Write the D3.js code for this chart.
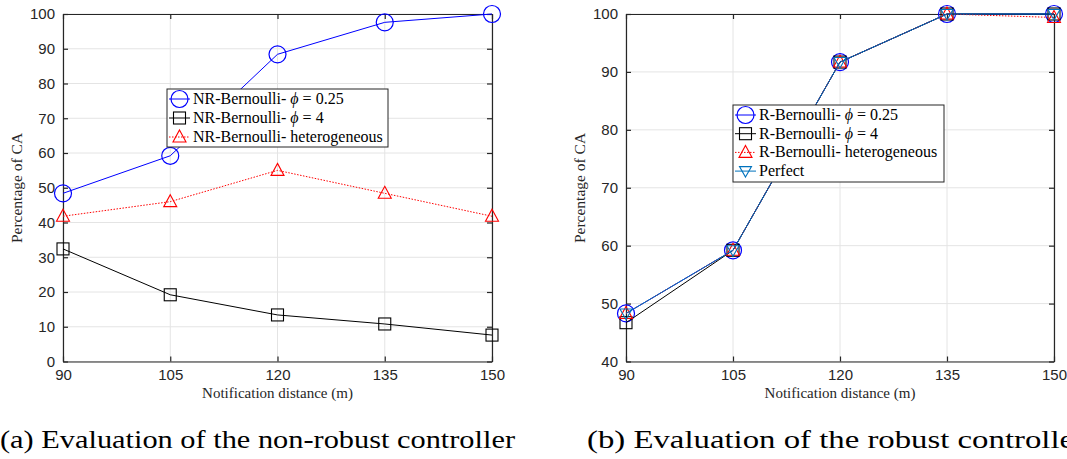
<!DOCTYPE html>
<html><head><meta charset="utf-8">
<script src="https://cdn.jsdelivr.net/npm/d3@7"></script>
<style>body{margin:0;background:#fff}svg{display:block}</style>
</head><body>
<svg id="c" width="1067" height="459"></svg>
<script>
const distances = [90, 105, 120, 135, 150];
const yTicksA = [0, 10, 20, 30, 40, 50, 60, 70, 80, 90, 100];
const yTicksB = [40, 50, 60, 70, 80, 90, 100];
// panel (a)
const nrPhi025 = [48.4, 59.2, 88.4, 97.6, 100];
const nrPhi4 = [32.4, 19.2, 13.4, 10.8, 7.6];
const nrHetero = [41.8, 46.0, 55.0, 48.4, 41.8];
// panel (b)
const rPhi025 = [48.3, 59.2, 91.7, 100, 100];
const rPhi4 = [46.7, 59.2, 91.7, 100, 100];
const rHetero = [48.3, 59.2, 91.7, 100, 99.4];
const rPerfect = [48.3, 59.2, 91.7, 100, 100];

const labelsA = ["NR-Bernoulli- ", "NR-Bernoulli- ", "NR-Bernoulli- heterogeneous"];
const labelsB = ["R-Bernoulli- ", "R-Bernoulli- ", "R-Bernoulli- heterogeneous", "Perfect"];

const svg = d3.select("#c");
const AX = "#262626";
const serif = "'Liberation Serif', 'DejaVu Serif', serif";
const sans = "'Liberation Sans', Arial, sans-serif";

function marker(g, type, x, y, color) {
  if (type === "circle") {
    g.append("circle").attr("cx", x).attr("cy", y).attr("r", 8.5)
      .attr("fill", "none").attr("stroke", color).attr("stroke-width", 1.2);
  } else if (type === "square") {
    g.append("rect").attr("x", x - 6).attr("y", y - 6).attr("width", 12).attr("height", 12)
      .attr("fill", "none").attr("stroke", color).attr("stroke-width", 1.1);
  } else if (type === "tri") {
    g.append("path").attr("d", `M${x},${y - 7}L${x + 6.5},${y + 5}L${x - 6.5},${y + 5}Z`)
      .attr("fill", "none").attr("stroke", color).attr("stroke-width", 1.1);
  } else if (type === "trid") {
    g.append("path").attr("d", `M${x},${y + 6}L${x + 6},${y - 4.5}L${x - 6},${y - 4.5}Z`)
      .attr("fill", "none").attr("stroke", color).attr("stroke-width", 1.1);
  }
}

function panel(cfg) {
  const x = d3.scalePoint().domain(distances).range([cfg.left, cfg.right]);
  const y = d3.scaleLinear().domain(cfg.ydom).range([361.5, 14]);
  const g = svg.append("g");
  // grid
  g.selectAll(".gx").data(distances).enter().append("line")
    .attr("x1", d => x(d)).attr("x2", d => x(d)).attr("y1", 14).attr("y2", 361.5)
    .attr("stroke", "#e4e4e4").attr("stroke-width", 1);
  g.selectAll(".gy").data(cfg.yticks).enter().append("line")
    .attr("x1", cfg.left).attr("x2", cfg.right).attr("y1", d => y(d)).attr("y2", d => y(d))
    .attr("stroke", "#e4e4e4").attr("stroke-width", 1);
  // axes
  const bottom = d3.axisBottom(x).tickSizeInner(-5).tickSizeOuter(0).tickPadding(8);
  const left = d3.axisLeft(y).tickValues(cfg.yticks).tickSizeInner(-5).tickSizeOuter(0).tickPadding(8);
  const top = d3.axisTop(x).tickSizeInner(-5).tickSizeOuter(0).tickFormat("");
  const right = d3.axisRight(y).tickValues(cfg.yticks).tickSizeInner(-5).tickSizeOuter(0).tickFormat("");
  const styleAx = s => {
    s.select(".domain").attr("stroke", AX).attr("stroke-width", 1.2);
    s.selectAll(".tick line").attr("stroke", AX).attr("stroke-width", 1.2);
    s.selectAll(".tick text").attr("fill", AX).style("font-family", sans).style("font-size", "15px");
  };
  g.append("g").attr("transform", "translate(0,14)").call(top).call(styleAx);
  g.append("g").attr("transform", `translate(${cfg.right},0)`).call(right).call(styleAx);
  g.append("g").attr("transform", "translate(0,361.5)").call(bottom).call(styleAx);
  g.append("g").attr("transform", `translate(${cfg.left},0)`).call(left).call(styleAx);

  // series
  const line = d3.line().x((d, i) => x(distances[i])).y(d => y(d));
  cfg.series.forEach(s => {
    g.append("path").datum(s.values).attr("d", line).attr("fill", "none")
      .attr("stroke", s.color).attr("stroke-width", s.width || 1)
      .attr("stroke-dasharray", s.dash || null);
    s.values.forEach((v, i) => marker(g, s.marker, x(distances[i]), y(v), s.color));
  });

  // labels
  g.append("text").attr("x", (cfg.left + cfg.right) / 2).attr("y", 398)
    .attr("text-anchor", "middle").style("font-family", serif).style("font-size", "15px")
    .attr("fill", AX).text("Notification distance (m)");
  g.append("text").attr("transform", `translate(${cfg.left - 41},188) rotate(-90)`)
    .attr("text-anchor", "middle").style("font-family", serif).style("font-size", "15.5px")
    .attr("fill", AX).text("Percentage of CA");

  // legend
  const L = cfg.legend;
  const lg = g.append("g");
  lg.append("rect").attr("x", L.x).attr("y", L.y).attr("width", L.w).attr("height", L.h)
    .attr("fill", "#fff").attr("stroke", AX).attr("stroke-width", 1);
  cfg.series.forEach((s, i) => {
    const cy = L.y + 10 + i * L.dy;
    lg.append("line").attr("x1", L.x + 2).attr("x2", L.x + 23).attr("y1", cy).attr("y2", cy)
      .attr("stroke", s.color).attr("stroke-width", s.width || 1).attr("stroke-dasharray", s.dash || null);
    marker(lg, s.marker, L.x + 12.5, cy, s.color);
    const t = lg.append("text").attr("x", L.x + 26).attr("y", cy + 5)
      .style("font-family", serif).style("font-size", "16px").attr("fill", "#000");
    t.append("tspan").text(s.label);
    if (s.phi) {
      t.append("tspan").style("font-style", "italic").text("\u03D5");
      t.append("tspan").text(" = " + s.phi);
    }
  });

  // caption
  svg.append("text").attr("x", cfg.capX).attr("y", 448)
    .style("font-family", serif).style("font-size", "25px").attr("fill", "#000")
    .attr("textLength", cfg.capLen).attr("lengthAdjust", "spacingAndGlyphs")
    .text(cfg.caption);
}

panel({
  left: 63, right: 492, ydom: [0, 100], yticks: yTicksA,
  series: [
    { values: nrPhi025, color: "#0000ff", marker: "circle", label: labelsA[0], phi: "0.25" },
    { values: nrPhi4, color: "#000000", marker: "square", label: labelsA[1], phi: "4" },
    { values: nrHetero, color: "#ff0000", marker: "tri", dash: "1.5,1.5", label: labelsA[2] }
  ],
  legend: { x: 167, y: 89, w: 221, h: 58, dy: 19 },
  caption: "(a) Evaluation of the non-robust controller", capX: 0, capLen: 515
});
panel({
  left: 626, right: 1054, ydom: [40, 100], yticks: yTicksB,
  series: [
    { values: rPhi025, color: "#0000ff", marker: "circle", label: labelsB[0], phi: "0.25" },
    { values: rPhi4, color: "#000000", marker: "square", label: labelsB[1], phi: "4" },
    { values: rHetero, color: "#ff0000", marker: "tri", dash: "1.5,1.5", label: labelsB[2] },
    { values: rPerfect, color: "#0072BD", marker: "trid", label: labelsB[3] }
  ],
  legend: { x: 733, y: 105, w: 211, h: 77, dy: 18.7 },
  caption: "(b) Evaluation of the robust controller", capX: 587, capLen: 498
});
</script>
</body></html>
